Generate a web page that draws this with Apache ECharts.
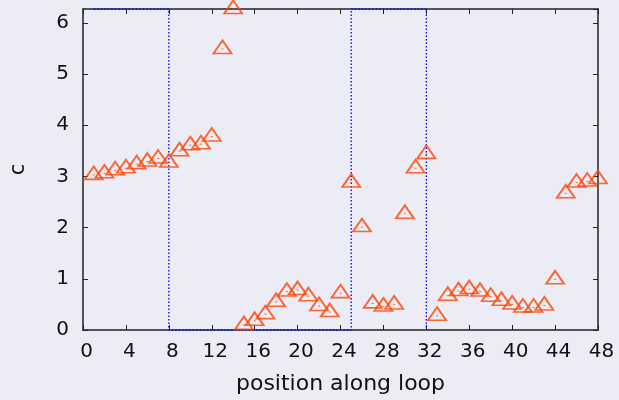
<!DOCTYPE html>
<html>
<head>
<meta charset="utf-8">
<script src="https://cdn.jsdelivr.net/npm/echarts@6/dist/echarts.min.js"></script>
<style>
html,body{margin:0;padding:0;background:#ececf6;}
#chart{width:619px;height:400px;}
</style>
</head>
<body>
<div id="chart"></div>
<script>
// position along loop
const positions = [1,2,3,4,5,6,7,8,9,10,11,12,13,14,15,16,17,18,19,20,21,22,23,24,
                   25,26,27,28,29,30,31,32,33,34,35,36,37,38,39,40,41,42,43,44,45,46,47,48];
// c values
const cValues = [3.03,3.06,3.12,3.16,3.24,3.29,3.35,3.27,3.49,3.61,3.63,3.78,5.49,6.27,
                 0.10,0.18,0.31,0.55,0.75,0.78,0.66,0.47,0.35,0.72,
                 2.88,2.01,0.52,0.46,0.50,2.27,3.16,3.44,
                 0.28,0.67,0.76,0.80,0.75,0.65,0.57,0.50,0.44,0.44,0.48,0.99,
                 2.67,2.88,2.90,2.95];
// marked segments (start, end) along the loop
const segments = [[1,8],[25,32]];
const xTicks = [0,4,8,12,16,20,24,28,32,36,40,44,48];
const yTicks = [0,1,2,3,4,5,6];

const Y_MAX = 6.27;
const X_MIN = 0, X_MAX = 48;

const pts = positions.map((p,i)=>[p,cValues[i]]);
const stepPath = [];
segments.forEach(([s,e])=>{
  if (stepPath.length) stepPath.push([s,0]);
  stepPath.push([s,Y_MAX]);
  stepPath.push([e,Y_MAX]);
  stepPath.push([e,0]);
});

const txt = '#111111';
const axisCol = '#222222';
const font = 'DejaVu Sans';
const line = {show:true,onZero:false,lineStyle:{color:axisCol,width:1.5}};
const tick = {show:true,inside:true,length:5,lineStyle:{color:axisCol,width:1}};

const chart = echarts.init(document.getElementById('chart'), null, {renderer:'canvas'});
chart.setOption({
  backgroundColor:'#ececf6',
  animation:false,
  grid:{left:83,right:21,top:9,bottom:70,containLabel:false,outerBoundsMode:'none'},
  xAxis:[{
    type:'value',min:X_MIN,max:X_MAX,interval:4,
    name:'position along loop',nameLocation:'middle',nameGap:43,
    nameTextStyle:{color:txt,fontSize:22,fontFamily:font},
    axisLine:line,axisTick:tick,
    axisLabel:{color:txt,fontSize:20,fontFamily:font,margin:12,padding:[0,0,0,7],
      formatter:v=>xTicks.includes(v)?String(v):''},
    splitLine:{show:false}
  },{
    type:'value',min:X_MIN,max:X_MAX,interval:4,position:'top',
    axisLine:line,axisTick:tick,
    axisLabel:{show:false},splitLine:{show:false}
  }],
  yAxis:[{
    type:'value',min:0,max:Y_MAX,interval:1,
    name:'c',nameLocation:'middle',nameGap:54,nameRotate:90,
    nameTextStyle:{color:txt,fontSize:21,fontFamily:font},
    axisLine:line,axisTick:tick,
    axisLabel:{color:txt,fontSize:20,fontFamily:font,margin:14,showMaxLabel:false,
      formatter:v=>yTicks.includes(v)?String(v):''},
    splitLine:{show:false}
  },{
    type:'value',min:0,max:Y_MAX,interval:1,position:'right',
    axisLine:line,axisTick:tick,
    axisLabel:{show:false},splitLine:{show:false}
  }],
  series:[{
    type:'line',data:stepPath,showSymbol:false,symbol:'none',clip:false,z:5,
    lineStyle:{color:'#0000ff',width:1.3,type:[1.5,2]},
    silent:true
  },{
    type:'scatter',data:pts,clip:false,z:10,
    symbol:'triangle',symbolSize:[18,13],symbolOffset:[0,-2],
    itemStyle:{color:'rgba(0,0,0,0)',borderColor:'#ff4400',borderWidth:1.8}
  },{
    type:'scatter',data:pts,clip:false,z:11,
    symbol:'rect',symbolSize:[2,1],
    itemStyle:{color:'#ff4400'}
  }]
});
</script>
</body>
</html>
